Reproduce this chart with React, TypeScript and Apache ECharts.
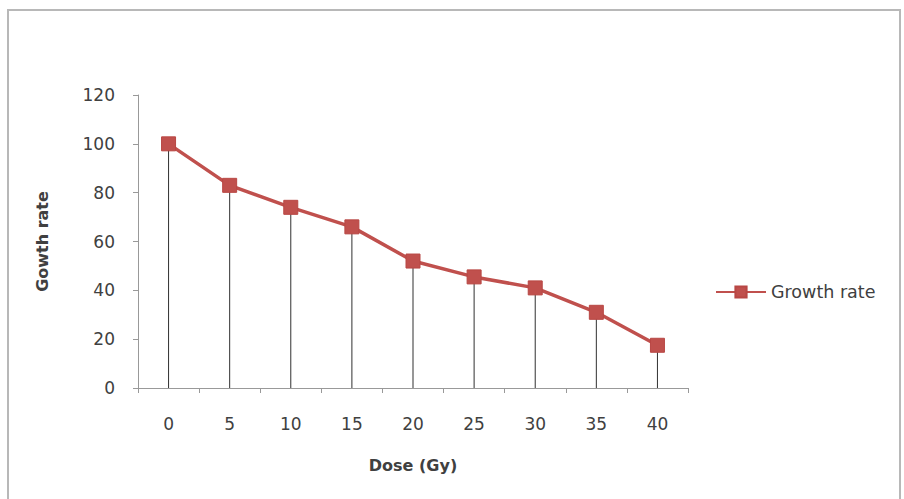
import React, { useEffect, useRef } from "react";
import * as echarts from "echarts";

const doses = ["0", "5", "10", "15", "20", "25", "30", "35", "40"];
const growthRate = [100, 83, 74, 66, 52, 45.5, 41, 31, 17.5];
const yMin = 0;
const yMax = 120;
const yStep = 20;

export default function App() {
  const ref = useRef<HTMLDivElement>(null);
  useEffect(() => {
    if (!ref.current) return;
    const chart = echarts.init(ref.current, undefined, { renderer: "svg" });
    const font = "'DejaVu Sans', 'Open Sans', sans-serif";
    chart.setOption({
      animation: false,
      backgroundColor: "#ffffff",
      graphic: [
        {
          type: "rect",
          shape: { x: 8, y: 10, width: 892, height: 500 },
          style: { fill: "none", stroke: "#b8b8b8", lineWidth: 2 },
          silent: true,
        },
      ],
      grid: { left: 138, right: 216, top: 95, bottom: 111, containLabel: false },
      legend: {
        data: ["Growth rate"],
        left: 715,
        top: 283,
        padding: 0,
        itemWidth: 50,
        itemHeight: 14,
        itemGap: 2,
        textStyle: { fontFamily: font, fontSize: 17.5, color: "#404040", padding: [0, 0, 0, 0] },
      },
      xAxis: {
        type: "category",
        data: doses,
        boundaryGap: true,
        name: "Dose (Gy)",
        nameLocation: "middle",
        nameGap: 69,
        nameTextStyle: { fontFamily: font, fontSize: 16, fontWeight: "bold", color: "#404040" },
        axisLine: { lineStyle: { color: "#999999", width: 1 } },
        axisTick: { show: true, alignWithLabel: false, length: 5, lineStyle: { color: "#999999" } },
        axisLabel: { fontFamily: font, fontSize: 17, color: "#404040", margin: 27 },
        splitLine: { show: false },
      },
      yAxis: {
        type: "value",
        min: yMin,
        max: yMax,
        interval: yStep,
        name: "Gowth rate",
        nameLocation: "middle",
        nameGap: 88,
        nameRotate: 90,
        nameTextStyle: { fontFamily: font, fontSize: 16, fontWeight: "bold", color: "#404040" },
        axisLine: { show: true, lineStyle: { color: "#999999", width: 1 } },
        axisTick: { show: true, length: 5, lineStyle: { color: "#999999" } },
        axisLabel: { fontFamily: font, fontSize: 17, color: "#404040", margin: 23 },
        splitLine: { show: false },
      },
      series: [
        {
          name: "drop",
          type: "bar",
          data: growthRate,
          barWidth: 1,
          itemStyle: { color: "#303030" },
          z: 1,
          silent: true,
        },
        {
          name: "Growth rate",
          type: "line",
          data: growthRate,
          symbol: "rect",
          symbolSize: 14,
          lineStyle: { color: "#c0504d", width: 3.5 },
          itemStyle: { color: "#c0504d", borderColor: "#b84744", borderWidth: 1 },
          z: 3,
        },
      ],
    });
    return () => chart.dispose();
  }, []);
  return (
    <div
      ref={ref}
      style={{ position: "absolute", left: 0, top: 0, width: 904, height: 499 }}
    />
  );
}
